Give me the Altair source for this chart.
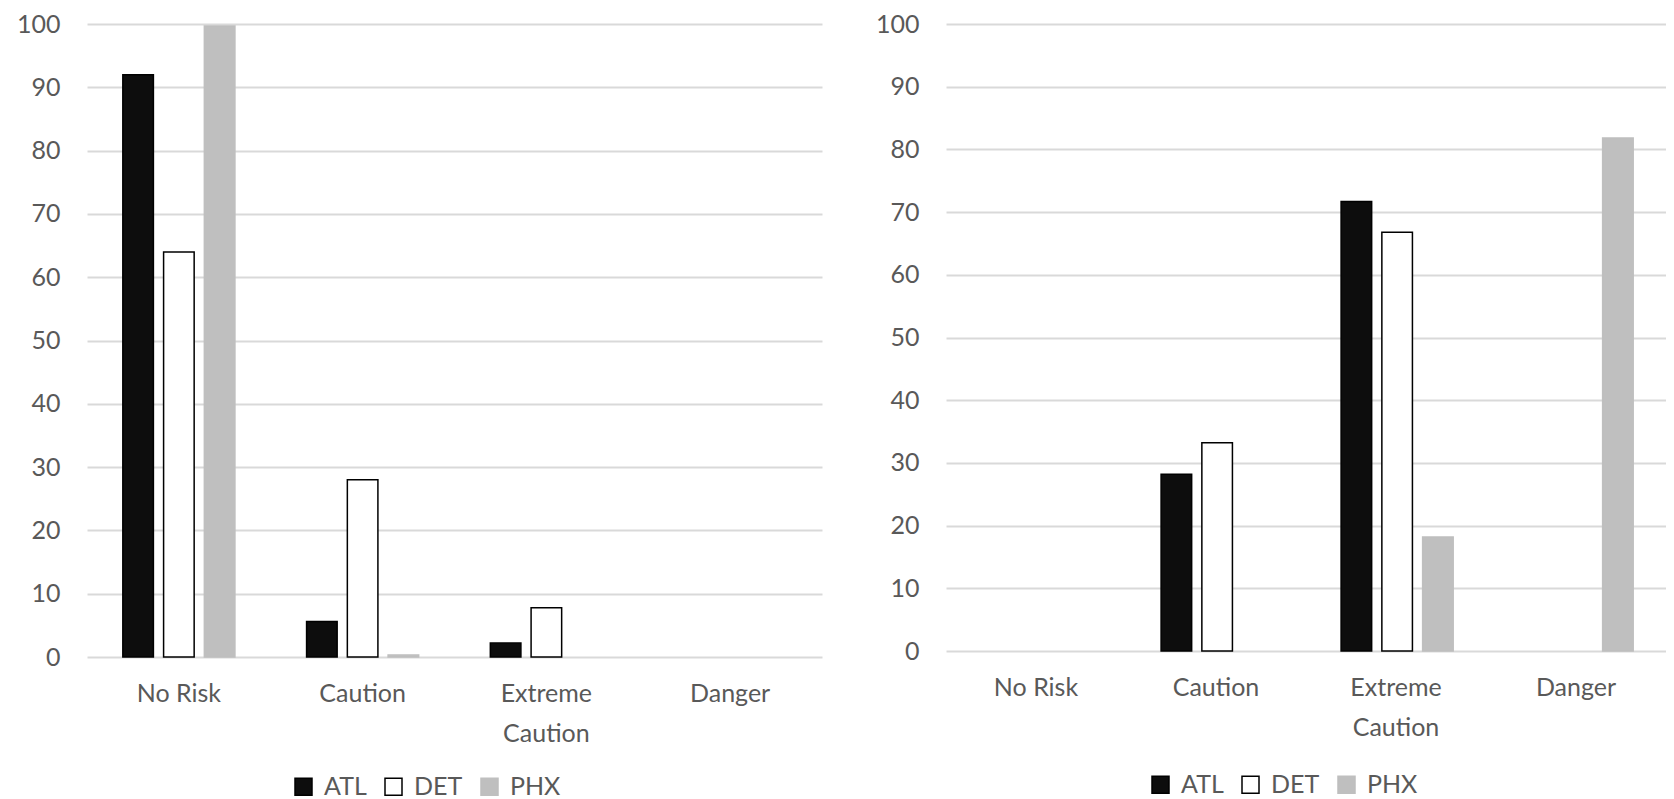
import altair as alt
import pandas as pd

categories = ["No Risk", "Caution", "Extreme Caution", "Danger"]
cities = ["ATL", "DET", "PHX"]

left_atl = [92.0, 5.6, 2.2, 0.0]
left_det = [64.0, 28.0, 7.8, 0.0]
left_phx = [99.7, 0.3, 0.0, 0.0]

right_atl = [0.0, 28.2, 71.7, 0.0]
right_det = [0.0, 33.2, 66.8, 0.0]
right_phx = [0.0, 0.0, 18.2, 81.8]

y_ticks = [0, 10, 20, 30, 40, 50, 60, 70, 80, 90, 100]
fill_colors = ["#0d0d0d", "#ffffff", "#bfbfbf"]
stroke_colors = ["#000000", "#000000", "#bfbfbf"]

FONT = "Lato"
TEXT = "#595959"


def make_df(atl, det, phx):
    rows = []
    for city, vals in zip(cities, [atl, det, phx]):
        for cat, v in zip(categories, vals):
            rows.append({"category": cat, "city": city, "value": v})
    return pd.DataFrame(rows)


def panel(df, width, height, legend_x, legend_y):
    legend = alt.Legend(
        title=None, orient="none", legendX=legend_x, legendY=legend_y,
        direction="horizontal", symbolType="square", symbolSize=289,
        symbolStrokeWidth=1.5, labelFontSize=25, labelFont=FONT,
        labelColor=TEXT, columnPadding=14, labelOffset=8,
    )
    return alt.Chart(df).transform_filter("datum.value > 0").mark_bar(
        strokeWidth=1.5
    ).encode(
        x=alt.X(
            "category:N",
            scale=alt.Scale(domain=categories, paddingInner=0.39, paddingOuter=0.195),
            axis=alt.Axis(
                title=None, labelAngle=0, domain=False, ticks=False, tickSize=0,
                labelPadding=24, labelFontSize=25, labelFont=FONT,
                labelColor=TEXT, labelLineHeight=40,
                labelExpr="datum.value == 'Extreme Caution' ? ['Extreme', 'Caution'] : datum.value",
            ),
        ),
        xOffset=alt.XOffset("city:N", scale=alt.Scale(domain=cities, paddingInner=0.25)),
        y=alt.Y(
            "value:Q",
            scale=alt.Scale(domain=[0, 100], nice=False),
            axis=alt.Axis(
                title=None, values=y_ticks, domain=False, ticks=False, tickSize=0,
                labelPadding=27, labelFontSize=25, labelFont=FONT, labelColor=TEXT,
                minExtent=79, maxExtent=79, gridColor="#d9d9d9", gridWidth=2,
            ),
        ),
        fill=alt.Fill("city:N", scale=alt.Scale(domain=cities, range=fill_colors), legend=legend),
        stroke=alt.Stroke("city:N", scale=alt.Scale(domain=cities, range=stroke_colors), legend=legend),
    ).properties(width=width, height=height)


left = panel(make_df(left_atl, left_det, left_phx), 735, 633, 204, 750)
right = panel(make_df(right_atl, right_det, right_phx), 720, 627, 202, 748)

chart = alt.hconcat(left, right, spacing=45).resolve_scale(
    fill="independent", stroke="independent"
).resolve_legend(
    fill="independent", stroke="independent"
).configure_view(stroke=None).properties(
    padding={"left": 0, "top": 4, "right": 0, "bottom": 0},
    background="white",
)

chart.save("out.html", embed_options={"renderer": "svg", "actions": False})
